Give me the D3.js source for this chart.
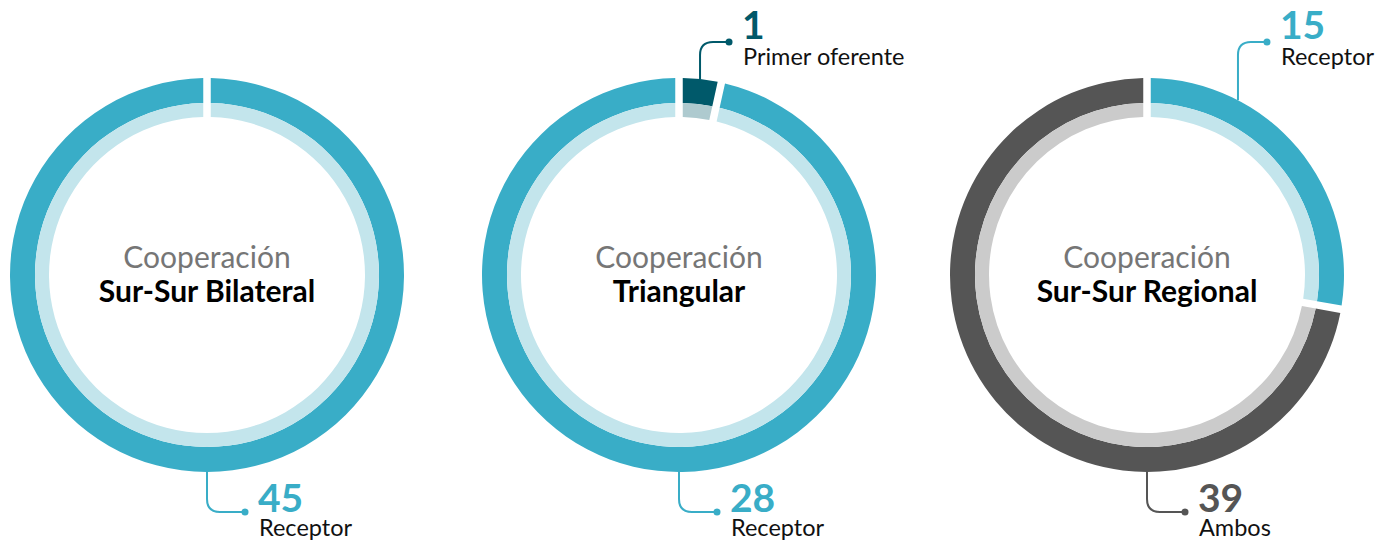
<!DOCTYPE html>
<html>
<head>
<meta charset="utf-8">
<script src="https://cdn.jsdelivr.net/npm/d3@7"></script>
<style>
  body { margin: 0; background: #fff; }
  text { font-family: Lato, "Open Sans", sans-serif; }
</style>
</head>
<body>
<div id="chart"></div>
<script>
// Data
var titles = ['Sur-Sur Bilateral', 'Triangular', 'Sur-Sur Regional'];
var roles = [
  ['Receptor'],
  ['Primer oferente', 'Receptor'],
  ['Receptor', 'Ambos']
];
var counts = [
  [45],
  [1, 28],
  [15, 39]
];

var roleColor = {
  'Receptor': {dark: '#39adc7', light: '#c3e5ec'},
  'Primer oferente': {dark: '#00596a', light: '#aecacf'},
  'Ambos': {dark: '#555555', light: '#cbcbcb'}
};

var width = 1378, height = 540;
var centersX = [207, 679, 1147], cy = 275;
var rOuter = 197, rMid = 172, rInner = 158;
var gap = 7.5;

// angle where each leader line leaves the ring
var leaderAngle = [
  [Math.PI],
  [0.107, Math.PI],
  [0.48, Math.PI]
];

var svg = d3.select('#chart')
  .append('svg')
  .attr('width', width)
  .attr('height', height);

var pie = d3.pie()
  .sort(null)
  .value(d => d.value)
  .startAngle(0)
  .endAngle(2 * Math.PI - 1e-6);

// the gap is cut out of each slice
var outerArc = d3.arc().innerRadius(rMid).outerRadius(rOuter)
  .padAngle(gap / rOuter).padRadius(rOuter);
var innerArc = d3.arc().innerRadius(rInner).outerRadius(rMid)
  .padAngle(gap / rOuter).padRadius(rOuter);

titles.forEach(function(title, i) {
  var g = svg.append('g')
    .attr('transform', 'translate(' + centersX[i] + ',' + cy + ')');

  var slices = pie(counts[i].map((v, j) => ({role: roles[i][j], value: v})));

  g.selectAll('path.outer')
    .data(slices)
    .enter()
    .append('path')
    .attr('class', 'outer')
    .attr('d', outerArc)
    .style('fill', d => roleColor[d.data.role].dark);

  g.selectAll('path.inner')
    .data(slices)
    .enter()
    .append('path')
    .attr('class', 'inner')
    .attr('d', innerArc)
    .style('fill', d => roleColor[d.data.role].light);

  // Center labels
  g.append('text')
    .attr('text-anchor', 'middle')
    .attr('y', -7)
    .style('font-size', '30px')
    .style('fill', '#767676')
    .text('Cooperación');

  g.append('text')
    .attr('text-anchor', 'middle')
    .attr('y', 27)
    .style('font-size', '30px')
    .style('font-weight', 'bold')
    .style('fill', '#000')
    .text(title);

  // Leader lines and value labels
  slices.forEach(function(d, j) {
    var a = leaderAngle[i][j];
    var x0 = rOuter * Math.sin(a);
    var y0 = -rOuter * Math.cos(a);
    var col = roleColor[d.data.role].dark;
    var bend = 13;
    var top = a < Math.PI / 2;
    var yEnd = top ? 42 - cy : 512 - cy;
    var xEnd = top ? x0 + 29 : x0 + 38;
    var path = 'M' + x0 + ',' + y0 +
      'V' + (top ? yEnd + bend : yEnd - bend) +
      'Q' + x0 + ',' + yEnd + ' ' + (x0 + bend) + ',' + yEnd +
      'H' + xEnd;

    g.append('path')
      .attr('d', path)
      .style('fill', 'none')
      .style('stroke', col)
      .style('stroke-width', 2);

    g.append('circle')
      .attr('cx', xEnd)
      .attr('cy', yEnd)
      .attr('r', 3.5)
      .style('fill', col);

    g.append('text')
      .attr('x', xEnd + 13)
      .attr('y', top ? yEnd - 3 : yEnd)
      .style('font-size', '39px')
      .style('font-weight', 'bold')
      .style('fill', col)
      .text(d.data.value);

    g.append('text')
      .attr('x', xEnd + 14)
      .attr('y', top ? yEnd + 23 : yEnd + 24)
      .style('font-size', '23.5px')
      .style('fill', '#111')
      .text(d.data.role);
  });
});
</script>
</body>
</html>
